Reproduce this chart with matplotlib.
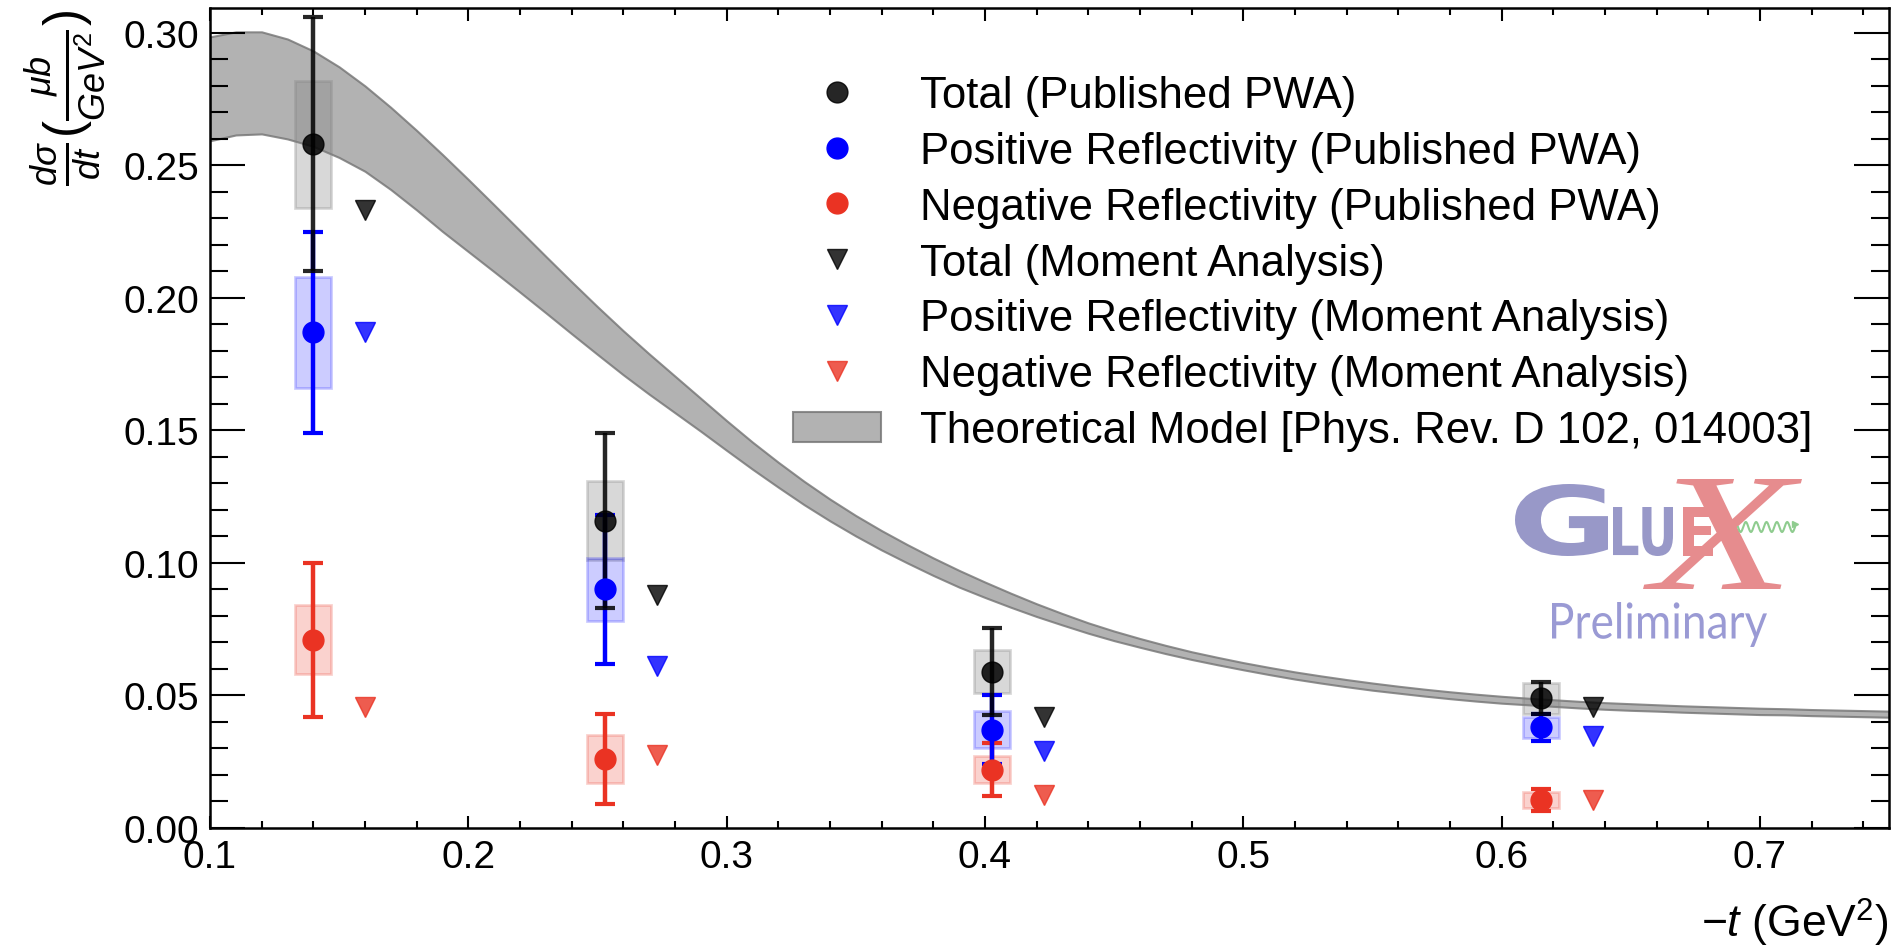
import numpy as np
import matplotlib
matplotlib.use("Agg")
import matplotlib.pyplot as plt
from matplotlib.patches import Rectangle, PathPatch
from matplotlib.textpath import TextPath
from matplotlib.font_manager import FontProperties
from matplotlib.transforms import Affine2D
from matplotlib.ticker import MultipleLocator, FormatStrFormatter

plt.rcParams['font.family'] = ['Liberation Sans', 'DejaVu Sans']
plt.rcParams['mathtext.fontset'] = 'custom'
plt.rcParams['mathtext.rm'] = 'Liberation Sans'
plt.rcParams['mathtext.it'] = 'Liberation Sans:italic'
plt.rcParams['mathtext.bf'] = 'Liberation Sans:bold'

# ---------------- data ----------------
t_pwa = [0.140, 0.2528, 0.4029, 0.6153]
t_mom = [0.160, 0.2729, 0.4227, 0.6354]

total = [0.258, 0.116, 0.059, 0.049]
total_err = [0.048, 0.033, 0.0165, 0.006]
total_sys = [0.024, 0.015, 0.008, 0.0058]

pos = [0.187, 0.090, 0.037, 0.038]
pos_err = [0.038, 0.028, 0.013, 0.005]
pos_sys = [0.021, 0.012, 0.007, 0.004]

neg = [0.071, 0.026, 0.022, 0.0106]
neg_err = [0.029, 0.017, 0.010, 0.004]
neg_sys = [0.013, 0.009, 0.005, 0.003]

mom_total = [0.233, 0.088, 0.042, 0.0457]
mom_pos = [0.187, 0.061, 0.029, 0.0347]
mom_neg = [0.0457, 0.0275, 0.0125, 0.0106]

band_t = [0.10, 0.11, 0.12, 0.13, 0.14, 0.15, 0.16, 0.17, 0.18, 0.19,
          0.20, 0.21, 0.22, 0.23, 0.24, 0.25, 0.26, 0.27, 0.28, 0.29,
          0.30, 0.31, 0.32, 0.33, 0.34, 0.35, 0.36, 0.37, 0.38, 0.39,
          0.40, 0.41, 0.42, 0.43, 0.44, 0.45, 0.46, 0.47, 0.48, 0.49,
          0.50, 0.51, 0.52, 0.53, 0.54, 0.55, 0.56, 0.57, 0.58, 0.59,
          0.60, 0.61, 0.62, 0.63, 0.64, 0.65, 0.66, 0.67, 0.68, 0.69,
          0.70, 0.71, 0.72, 0.73, 0.74, 0.75]
band_hi = [0.2985, 0.3004, 0.3004, 0.2977, 0.2932, 0.2872, 0.2800, 0.2719, 0.2632, 0.2541,
           0.2447, 0.2351, 0.2254, 0.2157, 0.2061, 0.1967, 0.1876, 0.1789, 0.1705, 0.1621,
           0.1537, 0.1456, 0.1380, 0.1308, 0.1241, 0.1179, 0.1122, 0.1069, 0.1019, 0.0972,
           0.0928, 0.0886, 0.0846, 0.0809, 0.0774, 0.0743, 0.0715, 0.0689, 0.0665, 0.0644,
           0.0624, 0.0606, 0.0589, 0.0574, 0.0560, 0.0547, 0.0535, 0.0524, 0.0514, 0.0505,
           0.0497, 0.0490, 0.0484, 0.0478, 0.0473, 0.0469, 0.0465, 0.0461, 0.0458, 0.0455,
           0.0452, 0.0450, 0.0447, 0.0445, 0.0443, 0.0441]
band_lo = [0.2593, 0.2615, 0.2619, 0.2600, 0.2572, 0.2530, 0.2478, 0.2409, 0.2332, 0.2251,
           0.2175, 0.2099, 0.2022, 0.1944, 0.1865, 0.1787, 0.1710, 0.1637, 0.1567, 0.1497,
           0.1425, 0.1354, 0.1286, 0.1220, 0.1159, 0.1102, 0.1049, 0.1000, 0.0953, 0.0909,
           0.0870, 0.0833, 0.0798, 0.0766, 0.0735, 0.0707, 0.0682, 0.0658, 0.0636, 0.0616,
           0.0597, 0.0579, 0.0562, 0.0547, 0.0533, 0.0520, 0.0509, 0.0498, 0.0488, 0.0479,
           0.0471, 0.0465, 0.0459, 0.0453, 0.0448, 0.0444, 0.0441, 0.0437, 0.0434, 0.0431,
           0.0428, 0.0427, 0.0424, 0.0422, 0.0420, 0.0418]

labels = ["Total (Published PWA)",
          "Positive Reflectivity (Published PWA)",
          "Negative Reflectivity (Published PWA)",
          "Total (Moment Analysis)",
          "Positive Reflectivity (Moment Analysis)",
          "Negative Reflectivity (Moment Analysis)",
          "Theoretical Model [Phys. Rev. D 102, 014003]"]

RED = '#ea3323'
BLUE = '#0000ff'
BLACK = '#000000'

W, H = 1891, 953
fig = plt.figure(figsize=(W / 100, H / 100), dpi=100)
ax = fig.add_axes([210 / W, (H - 829) / H, 1679 / W, 820 / H])

# theory band
band = ax.fill_between(band_t, band_lo, band_hi, facecolor=(0.5, 0.5, 0.5, 0.6),
                       edgecolor=(0.45, 0.45, 0.45, 0.8), lw=1.5, zorder=1)

# systematic boxes
box_w = 0.014
def boxes(ts, ys, ss, color, alpha):
    for t, y, s in zip(ts, ys, ss):
        ax.add_patch(Rectangle((t - box_w / 2, y - s), box_w, 2 * s,
                               facecolor=matplotlib.colors.to_rgba(color, alpha),
                               edgecolor=matplotlib.colors.to_rgba(color, alpha),
                               lw=2, zorder=2))

boxes(t_pwa, total, total_sys, 'gray', 0.3)
boxes(t_pwa, pos, pos_sys, BLUE, 0.2)
boxes(t_pwa, neg, neg_sys, RED, 0.22)

ekw = dict(fmt='o', ms=15, elinewidth=3.2, capsize=7, capthick=3, zorder=3)
e_neg = ax.errorbar(t_pwa, neg, yerr=neg_err, color=RED, **ekw)
e_pos = ax.errorbar(t_pwa, pos, yerr=pos_err, color=BLUE, **ekw)
e_tot = ax.errorbar(t_pwa, total, yerr=total_err, color=BLACK, alpha=0.85, **ekw)

mkw = dict(ls='none', marker='v', ms=15, alpha=0.8, zorder=4)
m_tot, = ax.plot(t_mom, mom_total, color=BLACK, **mkw)
m_pos, = ax.plot(t_mom, mom_pos, color=BLUE, **mkw)
m_neg, = ax.plot(t_mom, mom_neg, color=RED, **mkw)

ax.set_xlim(0.1, 0.75)
ax.set_ylim(0.0, 0.3094)
ax.xaxis.set_major_locator(MultipleLocator(0.1))
ax.xaxis.set_minor_locator(MultipleLocator(0.02))
ax.yaxis.set_major_locator(MultipleLocator(0.05))
ax.yaxis.set_minor_locator(MultipleLocator(0.01))
ax.xaxis.set_major_formatter(FormatStrFormatter('%.1f'))
ax.yaxis.set_major_formatter(FormatStrFormatter('%.2f'))
ax.tick_params(which='both', direction='in', top=True, right=True, width=1.5)
ax.tick_params(axis='x', which='major', length=9, pad=8, labelsize=28)
ax.tick_params(axis='x', which='minor', length=5)
ax.tick_params(axis='y', which='major', length=25, pad=8, labelsize=28)
ax.tick_params(axis='y', which='minor', length=13)
for sp in ax.spines.values():
    sp.set_linewidth(1.8)

ax.set_xlabel(r'$-t$ (GeV$^2$)', fontsize=32, loc='right', labelpad=15)
ax.set_ylabel(r'$\frac{d\sigma}{dt}(\frac{\mu b}{GeV^2})$', fontsize=37, loc='top', labelpad=11)

handles = [e_tot.lines[0], e_pos.lines[0], e_neg.lines[0], m_tot, m_pos, m_neg, band]
ax.legend(handles, labels, loc='upper left', bbox_to_anchor=(793 / W, 1 - 76 / H),
          bbox_transform=fig.transFigure, frameon=False, fontsize=31.5,
          borderpad=0, borderaxespad=0, handlelength=2.0, handletextpad=0.9,
          labelspacing=0.34)

# ---------------- GlueX logo (decoration) ----------------
def fit_text(s, fp, x0, ytop, x1, ybot, color, z=5):
    tp = TextPath((0, 0), s, prop=fp, size=100)
    bb = tp.get_extents()
    sx = (x1 - x0) / bb.width
    sy = (ybot - ytop) / bb.height
    tr = (Affine2D().translate(-bb.x0, -bb.y0).scale(sx / 100, sy / 100)
          .translate(x0 / 100, (H - ybot) / 100) + fig.dpi_scale_trans)
    fig.add_artist(PathPatch(tp, transform=tr, facecolor=color, lw=0, zorder=z))

PURPLE = '#9898c8'
PINK = '#e68c8e'
fit_text("G", FontProperties(family='DejaVu Sans', weight='bold'), 1515, 485, 1608, 557, PURPLE)
fit_text("LU", FontProperties(family='DejaVu Sans', weight='bold'), 1613, 508, 1673, 557, PURPLE)
fit_text("E", FontProperties(family='DejaVu Sans', weight='bold'), 1683, 508, 1713, 557, PINK)
fit_text("X", FontProperties(family='Liberation Serif', style='italic'), 1643, 480, 1802, 590, PINK)
fit_text("Preliminary", FontProperties(family='Lato', weight='normal'), 1552, 603, 1767, 648, '#9a9ad4')

# green wavy photon line
wx = np.linspace(1738, 1795, 200)
wy = 528 + 5 * np.sin((wx - 1738) / 57 * 2 * np.pi * 5.5)
fig.add_artist(plt.Line2D(wx / W, 1 - wy / H, transform=fig.transFigure,
                          color='#8fcc8f', lw=1.5, zorder=6))
fig.add_artist(plt.Line2D([1795 / W], [1 - 525 / H], transform=fig.transFigure,
                          marker='>', ms=5, color='#8fcc8f', lw=0, zorder=6))

fig.savefig('out.png', dpi=100)
